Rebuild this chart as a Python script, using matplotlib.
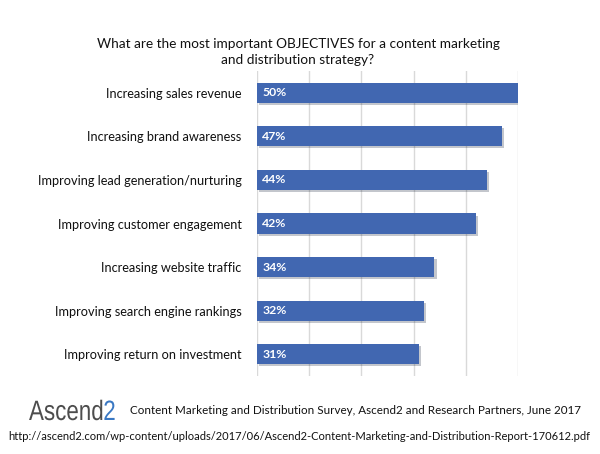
import matplotlib
matplotlib.use("Agg")
import matplotlib.pyplot as plt
import matplotlib.patheffects as pe
from matplotlib.textpath import TextPath
from matplotlib.patches import PathPatch
from matplotlib.font_manager import FontProperties
from matplotlib.transforms import Affine2D

categories = [
    "Increasing sales revenue",
    "Increasing brand awareness",
    "Improving lead generation/nurturing",
    "Improving customer engagement",
    "Increasing website traffic",
    "Improving search engine rankings",
    "Improving return on investment",
]
values = [50, 47, 44, 42, 34, 32, 31]
title = "What are the most important OBJECTIVES for a content marketing\nand distribution strategy?"
source = "Content Marketing and Distribution Survey, Ascend2 and Research Partners, June 2017"
url = "http://ascend2.com/wp-content/uploads/2017/06/Ascend2-Content-Marketing-and-Distribution-Report-170612.pdf"

plt.rcParams['font.family'] = ['Lato', 'DejaVu Sans']
bar_color = "#4167B1"

fig = plt.figure(figsize=(6.0, 4.54), dpi=100)
ax = fig.add_axes([257/600, 1-376/454, (518-257)/600, (376-71)/454])

y = list(range(len(categories)))
ax.barh(y, values, height=0.46, color=bar_color, zorder=3,
        path_effects=[pe.SimplePatchShadow(offset=(1.5, -1.5), alpha=0.25), pe.Normal()])
ax.set_ylim(len(categories) - 0.5, -0.5)
ax.set_xlim(0, 50)
ax.set_xticks([0, 10, 20, 30, 40, 50])
ax.xaxis.grid(True, color="#D9D9D9", linewidth=1, zorder=0)
ax.tick_params(axis="x", length=0, labelbottom=False)
ax.tick_params(axis="y", length=0, pad=11, labelsize=9.2, labelcolor="#111111")
ax.set_yticks(y)
ax.set_yticklabels(categories)
for s in ax.spines.values():
    s.set_visible(False)

for yi, v in zip(y, values):
    ax.text(1.0, yi, f"{v}%", color="white", fontweight="bold", fontsize=8.8,
            va="center", ha="left", zorder=4)

fig.text(298/600, 1-52/454, title, ha="center", va="center", fontsize=9.8,
         color="#111111", linespacing=1.45)

# footer logo drawn as condensed text paths (pixel coordinates)
fp = FontProperties(family=["Liberation Sans", "DejaVu Sans"])
def logo_text(s, x0, y0, size, xscale, color):
    tp = TextPath((0, 0), s, size=size, prop=fp)
    tr = Affine2D().scale(xscale, 1.0).translate(x0, y0)
    path = tr.transform_path(tp)
    patch = PathPatch(path, facecolor=color, edgecolor="none", transform=None)
    fig.patches.append(patch)
    return path.get_extents()

ext = logo_text("Ascend", 29, 454 - 420, 28, 0.8, "#4D4D4D")
logo_text("2", ext.x1 + 1, 454 - 420, 28, 0.8, "#3A78C3")

fig.text(130/600, 1-411/454, source, fontsize=8.4, color="#111111", ha="left", va="center")
fig.text(299/600, 1-436/454, url, fontsize=8.0, color="#111111", ha="center", va="center")

fig.savefig("out.png", dpi=100)
